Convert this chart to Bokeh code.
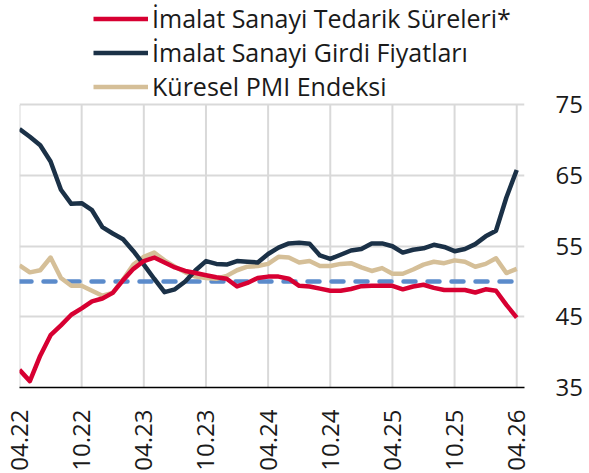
import math
from bokeh.plotting import figure
from bokeh.models import Range1d, FixedTicker, Legend, LegendItem
from bokeh.embed import file_html
from bokeh.resources import INLINE

# monthly index 0 = 04.22 ... 48 = 04.26
months = list(range(49))

tedarik = [37.5, 35.9, 39.5, 42.4, 43.8, 45.3, 46.2, 47.2, 47.6, 48.4,
           50.2, 51.8, 52.9, 53.4, 52.7, 52.0, 51.5, 51.2, 50.9, 50.6,
           50.4, 49.3, 49.8, 50.5, 50.7, 50.7, 50.4, 49.4, 49.3, 49.0,
           48.7, 48.7, 48.95, 49.35, 49.4, 49.4, 49.4, 48.9, 49.3, 49.55,
           49.1, 48.8, 48.8, 48.8, 48.45, 48.9, 48.7, 46.7, 44.9]

girdi = [71.6, 70.5, 69.3, 67.0, 63.0, 61.0, 61.1, 60.1, 57.7, 56.8,
         56.0, 54.3, 52.4, 50.4, 48.5, 48.9, 50.0, 51.6, 52.9, 52.5,
         52.4, 52.9, 52.8, 52.7, 53.9, 54.8, 55.4, 55.5, 55.35, 53.7,
         53.2, 53.8, 54.4, 54.6, 55.4, 55.4, 55.0, 54.1, 54.5, 54.7,
         55.2, 54.9, 54.3, 54.6, 55.3, 56.4, 57.2, 61.9, 65.8]

pmi = [52.3, 51.3, 51.6, 53.4, 50.5, 49.4, 49.4, 48.7, 48.0, 48.4,
       50.3, 52.4, 53.5, 54.1, 53.0, 52.1, 51.3, 50.7, 50.5, 50.4,
       50.8, 51.6, 52.1, 52.2, 52.5, 53.5, 53.4, 52.7, 52.9, 52.2,
       52.2, 52.5, 52.6, 52.0, 51.5, 51.9, 51.1, 51.1, 51.7, 52.4,
       52.8, 52.6, 53.0, 52.8, 52.1, 52.5, 53.3, 51.2, 51.8]

esik = [50.0] * 49

tick_pos = [0, 6, 12, 18, 24, 30, 36, 42, 48]
tick_labels = ["04.22", "10.22", "04.23", "10.23", "04.24", "10.24",
               "04.25", "10.25", "04.26"]
y_ticks = [35, 45, 55, 65, 75]

names = ["İmalat Sanayi Tedarik Süreleri*", "İmalat Sanayi Girdi Fiyatları",
         "Küresel PMI Endeksi"]

FONT = "Open Sans"
TXT = "#1a1a1a"
GRID = "#d9d9d9"

# frame spans the legend area too; the value axis stops at 75
p = figure(width=589, height=473, output_backend="svg", toolbar_location=None,
           x_range=Range1d(0, 48.75), y_range=Range1d(35, 89.79),
           y_axis_location="right",
           min_border_left=19, min_border_right=65, min_border_top=0,
           min_border_bottom=84)
p.outline_line_color = None
p.background_fill_color = "white"
p.border_fill_color = "white"

# grids
p.xgrid.visible = False
p.ygrid.ticker = FixedTicker(ticks=y_ticks[1:])
p.ygrid.grid_line_color = GRID
p.ygrid.grid_line_width = 2
p.segment(x0=tick_pos, x1=tick_pos, y0=[y_ticks[0]] * len(tick_pos),
          y1=[y_ticks[-1]] * len(tick_pos), line_color=GRID, line_width=2,
          level="underlay")

# x axis
xa = p.xaxis[0]
xa.ticker = FixedTicker(ticks=tick_pos)
xa.major_label_overrides = {t: l for t, l in zip(tick_pos, tick_labels)}
xa.major_label_orientation = math.pi / 2
xa.major_label_text_font = FONT
xa.major_label_text_font_size = "24px"
xa.major_label_text_color = TXT
xa.major_label_standoff = 16
xa.axis_line_color = "black"
xa.axis_line_width = 1.5
xa.major_tick_line_color = None
xa.minor_tick_line_color = None

# y axis (right)
ya = p.yaxis[0]
ya.ticker = FixedTicker(ticks=y_ticks)
ya.major_label_text_font = FONT
ya.major_label_text_font_size = "24px"
ya.major_label_text_color = TXT
ya.major_label_standoff = 25
ya.axis_line_color = None
ya.major_tick_line_color = None
ya.minor_tick_line_color = None

# lines
r_esik = p.line(months, esik, line_color="#5B8BCB", line_width=4.5,
                line_dash="12 12", line_cap="round")
r_pmi = p.line(months, pmi, line_color="#D5BF98", line_width=4.5,
               line_join="round")
r_girdi = p.line(months, girdi, line_color="#1B3147", line_width=4.5,
                 line_join="round")
r_ted = p.line(months, tedarik, line_color="#D70032", line_width=4.5,
               line_join="round")

legend = Legend(items=[LegendItem(label=names[0], renderers=[r_ted]),
                       LegendItem(label=names[1], renderers=[r_girdi]),
                       LegendItem(label=names[2], renderers=[r_pmi])],
                location=(74, 284), orientation="vertical",
                glyph_width=55, glyph_height=33, label_height=33,
                spacing=0, padding=0, margin=0, label_standoff=4,
                label_text_font=FONT, label_text_font_size="25px",
                label_text_color=TXT, border_line_color=None,
                background_fill_alpha=0)
p.add_layout(legend, "center")

open("out.html", "w").write(file_html(p, INLINE))
